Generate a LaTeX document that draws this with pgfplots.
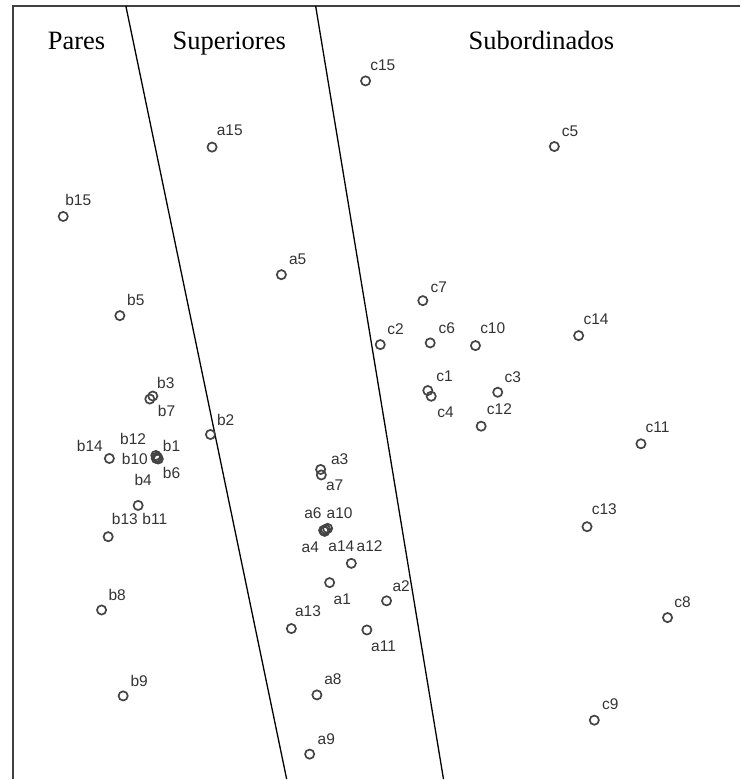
\documentclass[border=0pt]{standalone}
\usepackage{pgfplots}
\pgfplotsset{compat=1.18}
\usepackage{pgfplotstable}
\usepackage{fontspec}
\setmainfont{Liberation Sans}
\newfontfamily\titlefont{Liberation Serif}
\definecolor{markgray}{HTML}{444444}
\definecolor{txtgray}{HTML}{333333}
\definecolor{framegray}{HTML}{404040}

\pgfplotstableread{
x y
63.3 216.7
120 316
153 396.5
150 399.5
210.7 435
109.5 459
156 456
157.5 457.5
158.5 459.5
156.5 459
157 458
138.3 506
108.3 537.3
101.7 610.7
123.3 696.7
212.3 147.3
281.7 275
321 470
321.7 475.5
324 531
326 530
328 529
325 532
351.7 564
330 583.3
387 601.5
291.7 629.3
367.3 630.7
317.3 695.7
310 755
366 81
555 146.7
423.3 301
380.7 345
430.7 343.3
476 346
579.3 336
428.3 391
431.7 396.7
498.3 392.7
481.7 426.7
641.7 444.3
587.7 527.3
668.3 618.3
595 721
}\points

\pgfplotstableread{
x y label
78.3 200 b15
136 300.7 b5
166 383.3 b3
166.7 411.7 b7
226 420 b2
90 446 b14
133.3 439.3 b12
171.7 446 b1
135 459 b10
171.7 474 b6
143.3 481 b4
125 520 b13
155 520 b11
117.3 595.7 b8
139.3 681.7 b9
230 130 a15
298 260 a5
340 460 a3
335 486 a7
313.3 513.3 a6
340 513.3 a10
310.7 548.3 a4
341.7 547.3 a14
370 546.7 a12
342.7 600 a1
308.3 612.3 a13
401.7 586.7 a2
384 646.7 a11
333.3 680 a8
326.7 740 a9
383.3 65 c15
570.7 131.7 c5
439.3 287.3 c7
396 330 c2
447.3 329 c6
493.3 328.3 c10
596.7 319.3 c14
445 376.7 c1
446 412.7 c4
513.3 377.3 c3
500 409.3 c12
658.3 427.3 c11
605 509.3 c13
683.3 603.3 c8
611 705 c9
}\labels

\pgfplotstableread{
x y label
76.7 50 Pares
229.5 50 Superiores
542 49.5 Subordinados
}\titles

\begin{document}
\begin{tikzpicture}
\begin{axis}[
  width=741pt, height=780pt, scale only axis,
  xmin=0, xmax=741, ymin=0, ymax=780,
  y dir=reverse,
  axis line style={draw=none},
  xtick=\empty, ytick=\empty,
  clip=false,
]
% frame
\addplot[framegray, line width=1.8pt, mark=none] coordinates {(13,780) (13,6) (741,6)};
% dividing lines
\addplot[black, line width=1.3pt, mark=none] coordinates {(126,6) (287,780)};
\addplot[black, line width=1.3pt, mark=none] coordinates {(316,6) (444,780)};
% points
\addplot[only marks, mark=o, mark size=4.6pt, markgray, mark options={line width=1.7pt}] table[x=x, y=y] {\points};
% labels
\addplot[draw=none, mark=none, nodes near coords, point meta=explicit symbolic,
  nodes near coords style={anchor=center, inner sep=0pt, text=txtgray, font=\fontsize{15.5}{17}\selectfont}]
  table[x=x, y=y, meta=label] {\labels};
% titles
\addplot[draw=none, mark=none, nodes near coords, point meta=explicit symbolic,
  nodes near coords style={anchor=base, inner sep=0pt, text=black, font=\titlefont\fontsize{26.5}{30}\selectfont}]
  table[x=x, y=y, meta=label] {\titles};
\end{axis}
\end{tikzpicture}
\end{document}
